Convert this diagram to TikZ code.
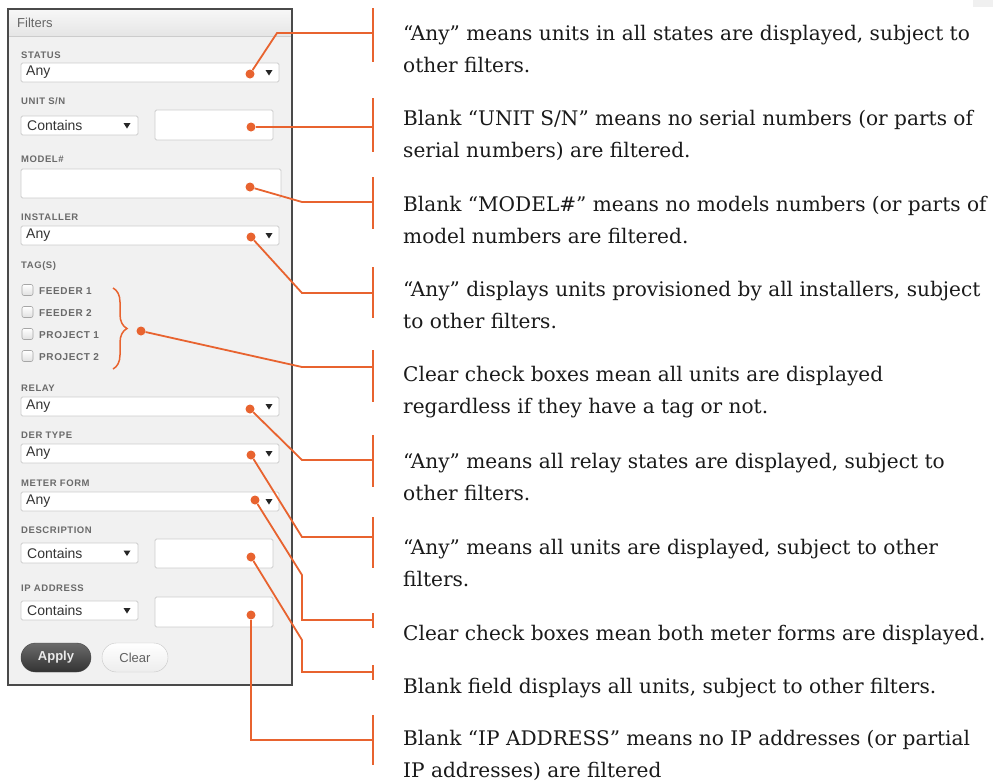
\documentclass[tikz,border=0pt]{standalone}
\usepackage{fontspec}
\setmainfont{DejaVu Serif}
\newfontfamily\uifont{Liberation Sans}
\newfontfamily\uilabel[LetterSpace=6]{Liberation Sans}
\usetikzlibrary{decorations.pathreplacing}

\definecolor{callout}{HTML}{E8632F}
\definecolor{panelbg}{HTML}{F1F1F1}
\definecolor{panelborder}{HTML}{4A4A4A}
\definecolor{fieldborder}{HTML}{CDCDCD}
\definecolor{labelgrey}{HTML}{6A6A6A}
\definecolor{valuetext}{HTML}{333333}
\definecolor{bodytext}{HTML}{1A1A1A}

\tikzset{
  field/.style={draw=fieldborder, fill=white, rounded corners=1.5pt, line width=0.8pt},
  fieldlabel/.style={anchor=west, inner sep=0pt, text=labelgrey,
    font=\uilabel\bfseries\fontsize{9.5}{9.5}\selectfont},
  value/.style={anchor=west, inner sep=0pt, text=valuetext,
    font=\uifont\fontsize{14}{14}\selectfont},
  tagbox/.style={draw=black!35, top color=white, bottom color=black!12,
    rounded corners=2pt, line width=0.6pt},
  taglabel/.style={anchor=west, inner sep=0pt, text=labelgrey,
    font=\uilabel\bfseries\fontsize{10}{10}\selectfont},
  dot/.style={circle, fill=callout, inner sep=0pt, minimum size=9pt},
  lead/.style={draw=callout, line width=1.8pt},
  tick/.style={draw=callout, line width=1.6pt},
  % base west of a multi-line note sits on its last line
  note/.style={anchor=base west, inner sep=0pt, align=left, text=bodytext,
    font=\fontsize{20.1}{32}\selectfont},
  ddarrow/.pic={\fill[black!85] (-3.5,-2.5) -- (3.5,-2.5) -- (0,3) -- cycle;}
}

\begin{document}
\begin{tikzpicture}[x=1pt, y=-1pt]
\useasboundingbox[fill=white] (0,0) rectangle (993,782);
\fill[black!6] (973,0) rectangle (993,7);

% ---------- filter panel ----------
\fill[panelbg] (8,9) rectangle (292,685);
\shade[top color=black!3, bottom color=black!10] (8,9) rectangle (292,36);
\draw[black!20, line width=0.8pt] (8,36) -- (292,36);
\draw[panelborder, line width=1.2pt] (8,9) rectangle (292,685);
\node[anchor=west, inner sep=0pt, text=black!60, font=\uifont\fontsize{13}{13}\selectfont]
  (title) at (17,23) {Filters};

% STATUS
\node[fieldlabel] (lstatus) at (21,55) {STATUS};
\draw[field] (21,63) rectangle (279,82);
\node[value] (vstatus) at (26,72.5) {Any};
\pic at (269,72.5) {ddarrow};

% UNIT S/N
\node[fieldlabel] (lunit) at (21,101) {UNIT S/N};
\draw[field] (21,116) rectangle (138,135);
\node[value] (vunit) at (27,125.5) {Contains};
\pic at (127,125.5) {ddarrow};
\draw[field] (155,110) rectangle (273,140);

% MODEL#
\node[fieldlabel] (lmodel) at (21,159) {MODEL\#};
\draw[field] (21,169) rectangle (281,198);

% INSTALLER
\node[fieldlabel] (linst) at (21,217) {INSTALLER};
\draw[field] (21,226) rectangle (279,245);
\node[value] (vinst) at (26,235.5) {Any};
\pic at (269,235.5) {ddarrow};

% TAG(S)
\node[fieldlabel] (ltag) at (21,266) {TAG(S)};
\foreach \yy/\name/\txt in {290/t1/FEEDER 1, 312/t2/FEEDER 2, 334/t3/PROJECT 1, 356/t4/PROJECT 2}{
  \draw[tagbox] (22,\yy-5.5) rectangle (33,\yy+5.5);
  \node[taglabel] (\name) at (39,\yy+1) {\txt};
}
\draw[callout, line width=1.5pt, decorate, decoration={brace, amplitude=14pt}]
  (113,288) -- (113,369);

% RELAY
\node[fieldlabel] (lrelay) at (21,388) {RELAY};
\draw[field] (21,397) rectangle (279,416);
\node[value] (vrelay) at (26,406.5) {Any};
\pic at (269,406.5) {ddarrow};

% DER TYPE
\node[fieldlabel] (lder) at (21,435) {DER TYPE};
\draw[field] (21,444) rectangle (279,463);
\node[value] (vder) at (26,453.5) {Any};
\pic at (269,453.5) {ddarrow};

% METER FORM
\node[fieldlabel] (lmeter) at (21,483) {METER FORM};
\draw[field] (21,492) rectangle (279,511);
\node[value] (vmeter) at (26,501.5) {Any};
\pic at (269,501.5) {ddarrow};

% DESCRIPTION
\node[fieldlabel] (ldesc) at (21,530) {DESCRIPTION};
\draw[field] (21,543) rectangle (138,563);
\node[value] (vdesc) at (27,553) {Contains};
\pic at (127,553) {ddarrow};
\draw[field] (155,539) rectangle (273,568);

% IP ADDRESS
\node[fieldlabel] (lip) at (21,588) {IP ADDRESS};
\draw[field] (21,601) rectangle (138,620);
\node[value] (vip) at (27,610.5) {Contains};
\pic at (127,610.5) {ddarrow};
\draw[field] (155,597) rectangle (273,627);

% buttons
\shade[top color=black!58, bottom color=black!80, draw=black!72, rounded corners=14.5pt]
  (21,643) rectangle (91,672);
\node[text=black!8, font=\uifont\bfseries\fontsize{13}{13}\selectfont] (apply) at (56,657.5) {Apply};
\shade[top color=white, bottom color=black!7, draw=black!22, rounded corners=14.5pt]
  (102,643) rectangle (168,672);
\node[text=black!62, font=\uifont\fontsize{13}{13}\selectfont] (clear) at (135,657.5) {Clear};

% ---------- call-out points ----------
\node[dot] (d1) at (250,74) {};
\node[dot] (d2) at (251,127) {};
\node[dot] (d3) at (250,187) {};
\node[dot] (d4) at (251,237) {};
\node[dot] (d5) at (141,331) {};
\node[dot] (d6) at (250,409) {};
\node[dot] (d7) at (251,455) {};
\node[dot] (d8) at (255,500) {};
\node[dot] (d9) at (251,557) {};
\node[dot] (d10) at (251,615) {};

% bends and tick ends
\coordinate (e1) at (277,33);   \coordinate (k1) at (373,33);
\coordinate (k2) at (373,127);
\coordinate (e3) at (302,202);  \coordinate (k3) at (373,202);
\coordinate (e4) at (302,293);  \coordinate (k4) at (373,293);
\coordinate (e5) at (302,367);  \coordinate (k5) at (373,367);
\coordinate (e6) at (302,460);  \coordinate (k6) at (373,460);
\coordinate (e7) at (302,537);  \coordinate (k7) at (373,537);
\coordinate (e8) at (302,575);  \coordinate (f8) at (302,620);  \coordinate (k8) at (373,620);
\coordinate (e9) at (302,640);  \coordinate (f9) at (302,672);  \coordinate (k9) at (373,672);
\coordinate (f10) at (251,740); \coordinate (k10) at (373,740);

\draw[lead] (d1) -- (e1) -- (k1);
\draw[lead] (d2) -- (k2);
\draw[lead] (d3) -- (e3) -- (k3);
\draw[lead] (d4) -- (e4) -- (k4);
\draw[lead] (d5) -- (e5) -- (k5);
\draw[lead] (d6) -- (e6) -- (k6);
\draw[lead] (d7) -- (e7) -- (k7);
\draw[lead] (d8) -- (e8) -- (f8) -- (k8);
\draw[lead] (d9) -- (e9) -- (f9) -- (k9);
\draw[lead] (d10) -- (f10) -- (k10);

% vertical ticks
\draw[tick] (373,8) -- (373,62);
\draw[tick] (373,98) -- (373,152);
\draw[tick] (373,177) -- (373,229);
\draw[tick] (373,267) -- (373,318);
\draw[tick] (373,350) -- (373,402);
\draw[tick] (373,435) -- (373,487);
\draw[tick] (373,517) -- (373,568);
\draw[tick] (373,613) -- (373,628);
\draw[tick] (373,665) -- (373,680);
\draw[tick] (373,715) -- (373,765);

% ---------- explanations ----------
\node[note] (n1) at (403,72) {“Any” means units in all states are displayed, subject to\\other filters.};
\node[note] (n2) at (403,157) {Blank “UNIT S/N” means no serial numbers (or parts of\\serial numbers) are filtered.};
\node[note] (n3) at (403,243) {Blank “MODEL\#” means no models numbers (or parts of\\model numbers are filtered.};
\node[note] (n4) at (403,328) {“Any” displays units provisioned by all installers, subject\\to other filters.};
\node[note] (n5) at (403,413) {Clear check boxes mean all units are displayed\\regardless if they have a tag or not.};
\node[note] (n6) at (403,500) {“Any” means all relay states are displayed, subject to\\other filters.};
\node[note] (n7) at (403,586) {“Any” means all units are displayed, subject to other\\filters.};
\node[note] (n8) at (403,640) {Clear check boxes mean both meter forms are displayed.};
\node[note] (n9) at (403,693) {Blank field displays all units, subject to other filters.};
\node[note] (n10) at (403,777) {Blank “IP ADDRESS” means no IP addresses (or partial\\IP addresses) are filtered};
\end{tikzpicture}
\end{document}
